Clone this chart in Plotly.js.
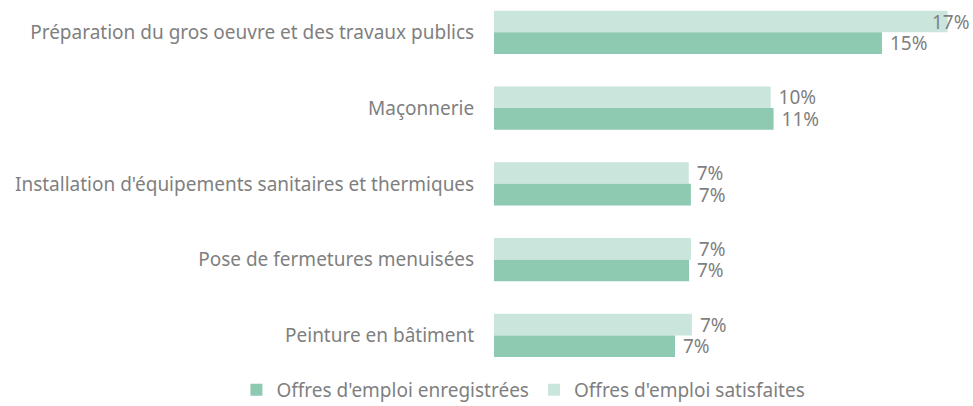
<!DOCTYPE html>
<html><head><meta charset="utf-8">
<script src="https://cdn.plot.ly/plotly-3.0.1.min.js"></script>
<style>html,body{margin:0;padding:0;background:#fff}#chart{width:973px;height:406px}</style>
</head><body><div id="chart"></div>
<script>
const categories = [
  "Préparation du gros oeuvre et des travaux publics",
  "Maçonnerie",
  "Installation d'équipements sanitaires et thermiques",
  "Pose de fermetures menuisées",
  "Peinture en bâtiment"
];
const enregistrees = [14.64, 10.55, 7.43, 7.36, 6.83];
const satisfaites = [17.12, 10.44, 7.35, 7.43, 7.47];
const seriesNames = ["Offres d'emploi enregistrées", "Offres d'emploi satisfaites"];

const font = {family: "Noto Sans, sans-serif", size: 19, color: "#7f7f7f"};
const fmt = v => Math.round(v) + '%';
// the longest bar's label would run off the page, so it is drawn as an annotation tucked against the bar end
const satPos = satisfaites.map((v, i) => i === 0 ? 'none' : 'outside');
const common = {type: 'bar', orientation: 'h', y: categories,
  texttemplate: ' %{x:.0f}%', cliponaxis: false, constraintext: 'none', textfont: font, hoverinfo: 'skip'};
const data = [
  Object.assign({}, common, {x: satisfaites, name: seriesNames[1], textposition: satPos, marker: {color: '#cae6dc'}}),
  Object.assign({}, common, {x: enregistrees, name: seriesNames[0], textposition: 'outside', marker: {color: '#8dcab1'}})
];
const layout = {
  width: 973, height: 406,
  margin: {l: 494, r: 2, t: 5, b: 41, autoexpand: false},
  barmode: 'group', bargap: 0.43, bargroupgap: 0,
  font: font,
  paper_bgcolor: '#fff', plot_bgcolor: '#fff',
  xaxis: {range: [0, 18], visible: false, fixedrange: true},
  yaxis: {type: 'category', categoryorder: 'array', categoryarray: categories,
    range: [4.39, -0.36], showgrid: false, zeroline: false, showline: false,
    ticks: 'outside', ticklen: 15, tickcolor: 'rgba(0,0,0,0)', tickfont: font},
  annotations: [{x: satisfaites[0], y: categories[0], xref: 'x', yref: 'y', text: fmt(satisfaites[0]),
    showarrow: false, xanchor: 'left', yanchor: 'middle', xshift: -18, yshift: 10, font: font}],
  showlegend: true,
  legend: {orientation: 'h', traceorder: 'reversed',
    x: -0.540, xanchor: 'left', y: -0.069, yanchor: 'middle', font: font, itemwidth: 30}
};
Plotly.newPlot('chart', data, layout, {staticPlot: true, displayModeBar: false});
</script></body></html>
